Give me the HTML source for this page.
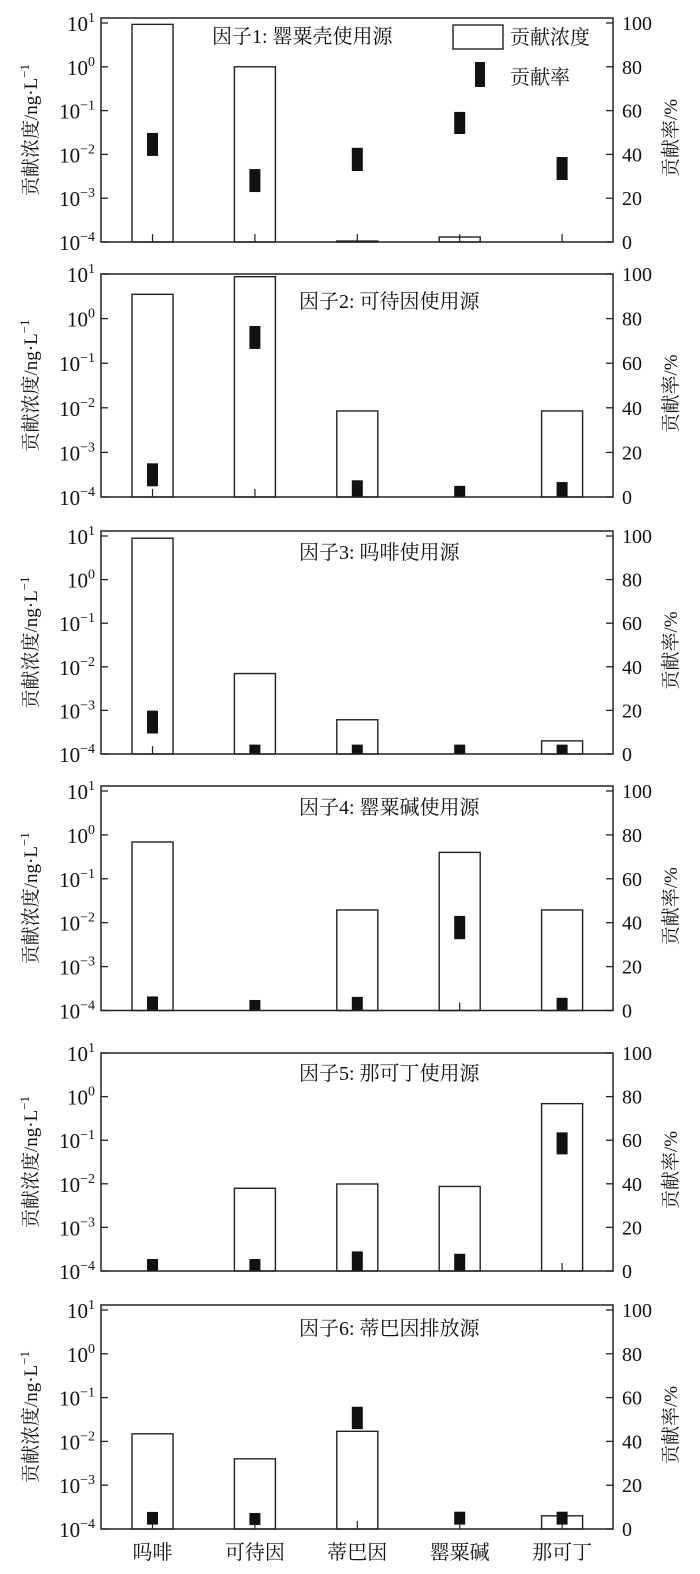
<!DOCTYPE html>
<html><head><meta charset="utf-8">
<style>
html,body{margin:0;padding:0;background:#fff;}
svg{display:block;}
text{font-family:"Liberation Serif","Noto Serif CJK SC",serif;fill:#111;}
</style></head>
<body>
<svg id="chart" width="700" height="1574" viewBox="0 0 700 1574" xmlns="http://www.w3.org/2000/svg"></svg>
<script>
const categories = ['吗啡','可待因','蒂巴因','罂粟碱','那可丁'];
const titles = ['因子1: 罂粟壳使用源','因子2: 可待因使用源','因子3: 吗啡使用源','因子4: 罂粟碱使用源','因子5: 那可丁使用源','因子6: 蒂巴因排放源'];
const conc1 = [9.3, 1.0, 1.05e-4, 1.3e-4, null];
const conc2 = [3.5, 8.7, 8.5e-3, null, 8.5e-3];
const conc3 = [8.9, 7e-3, 6.1e-4, null, 2e-4];
const conc4 = [0.69, null, 0.0195, 0.4, 0.0195];
const conc5 = [null, 7.9e-3, 9.9e-3, 8.7e-3, 0.69];
const conc6 = [0.0149, 4e-3, 0.017, null, 2e-4];
const rateLow1 = [39.3, 22.8, 32.4, 49.3, 28.3];
const rateHigh1 = [49.8, 33.3, 43, 59.4, 38.8];
const rateLow2 = [4.8, 66.4, 0, 0, 0];
const rateHigh2 = [15.1, 76.7, 7.5, 5, 6.7];
const rateLow3 = [9.4, 0, 0, 0, 0];
const rateHigh3 = [19.9, 4.3, 4.3, 4.3, 4.3];
const rateLow4 = [0, 0, 0, 32.5, 0];
const rateHigh4 = [6.4, 4.8, 6.2, 43.1, 5.8];
const rateLow5 = [0, 0, 0, 0, 53.5];
const rateHigh5 = [5.5, 5.5, 9, 7.9, 63.6];
const rateLow6 = [2, 1.8, 45.6, 2, 2];
const rateHigh6 = [7.8, 7.3, 55.8, 7.9, 7.9];
const logTicks = [1, 0, -1, -2, -3, -4];
const pctTicks = [0, 20, 40, 60, 80, 100];

const concs = [conc1, conc2, conc3, conc4, conc5, conc6];
const lows = [rateLow1, rateLow2, rateLow3, rateLow4, rateLow5, rateLow6];
const highs = [rateHigh1, rateHigh2, rateHigh3, rateHigh4, rateHigh5, rateHigh6];

const NS = 'http://www.w3.org/2000/svg';
const svg = document.getElementById('chart');
const X0 = 101, X1 = 613;
const tops = [18, 274, 531, 786, 1053, 1305];
const bottoms = [242, 497, 754, 1010.5, 1271, 1529];
const offs = [5, 0, 5, 5, 0, 5];
const titleX = [212, 299, 299, 299, 299, 299];
const titleDy = [18, 27, 21, 21, 20, 23];
const barW = 41, mkW = 11;

function mk(tag, attrs, parent) {
  const e = document.createElementNS(NS, tag);
  for (const k in attrs) e.setAttribute(k, attrs[k]);
  (parent || svg).appendChild(e);
  return e;
}
function xScale(i) { return X0 + 51.5 + i * 102.4; }

for (let p = 0; p < 6; p++) {
  const top = tops[p], bot = bottoms[p], yTop = top + offs[p];
  const dec = (bot - yTop) / 5;
  const yLog = v => bot - (Math.log10(v) + 4) * dec;
  const yPct = v => bot - v / 100 * (bot - yTop);
  const g = mk('g', {});
  
  

  // bars
  concs[p].forEach((v, i) => {
    if (v === null) return;
    const y = yLog(v);
    const r = mk('rect', {x: xScale(i) - barW / 2, y: y, width: barW, height: Math.max(bot - y, 0.5), fill: '#fff', stroke: '#222', 'stroke-width': 1.4}, g);
    
    
  });
  // bottom category ticks
  categories.forEach((c, i) => {
    mk('line', {x1: xScale(i), x2: xScale(i), y1: bot, y2: bot - 8, stroke: '#222', 'stroke-width': 1.2}, g);
  });
  // rate markers
  lows[p].forEach((lo, i) => {
    const hi = highs[p][i];
    const r = mk('rect', {x: xScale(i) - mkW / 2, y: yPct(hi), width: mkW, height: yPct(lo) - yPct(hi), fill: '#111'}, g);
    
    
  });
  // left ticks + labels
  logTicks.forEach(t => {
    const y = yLog(Math.pow(10, t));
    mk('line', {x1: X0, x2: X0 + 7, y1: y, y2: y, stroke: '#222', 'stroke-width': 1.3}, g);
    const tx = mk('text', {x: 95, y: y + 8, 'text-anchor': 'end', 'font-size': 21}, g);
    
    
    const a = mk('tspan', {}, tx); a.textContent = '10';
    const b = mk('tspan', {dy: -9, 'font-size': 14}, tx); b.textContent = t < 0 ? '−' + (-t) : String(t);
  });
  // right ticks + labels
  pctTicks.forEach(t => {
    const y = yPct(t);
    mk('line', {x1: X1, x2: X1 - 7, y1: y, y2: y, stroke: '#222', 'stroke-width': 1.3}, g);
    const tx = mk('text', {x: 622, y: y + 7, 'font-size': 20}, g);
    
    
    tx.textContent = t;
  });
  // frame
  const fr = mk('rect', {x: X0, y: top, width: X1 - X0, height: bot - top, fill: 'none', stroke: '#222', 'stroke-width': 1.5}, g);
  
  
  // title
  const tt = mk('text', {x: titleX[p], y: top + titleDy[p] + 7, 'font-size': 20}, g);
  
  
  tt.textContent = titles[p];
  // y-axis titles
  const cy = (top + bot) / 2;
  const lt = mk('text', {x: 0, y: 0, 'font-size': 19, 'text-anchor': 'middle', transform: 'translate(37,' + cy + ') rotate(-90)'}, g);
  
  
  const l1 = mk('tspan', {}, lt); l1.textContent = '贡献浓度/ng·L';
  const l2 = mk('tspan', {dy: -8, 'font-size': 13}, lt); l2.textContent = '−1';
  const rt = mk('text', {x: 0, y: 0, 'font-size': 19, 'text-anchor': 'middle', transform: 'translate(677,' + (cy + 8) + ') rotate(-90)'}, g);
  
  
  rt.textContent = '贡献率/%';
}

// x labels
categories.forEach((c, i) => {
  const t = mk('text', {x: xScale(i), y: 1559, 'text-anchor': 'middle', 'font-size': 20});
  
  
  t.textContent = c;
});

// legend
const lg = mk('g', {});


mk('rect', {x: 453, y: 25, width: 50, height: 24, fill: '#fff', stroke: '#222', 'stroke-width': 1.4}, lg);
const lt1 = mk('text', {x: 510, y: 44, 'font-size': 20}, lg);


lt1.textContent = '贡献浓度';
mk('rect', {x: 475, y: 62, width: 10, height: 25, fill: '#111'}, lg);
const lt2 = mk('text', {x: 510, y: 84, 'font-size': 20}, lg);


lt2.textContent = '贡献率';
</script>
</body></html>
